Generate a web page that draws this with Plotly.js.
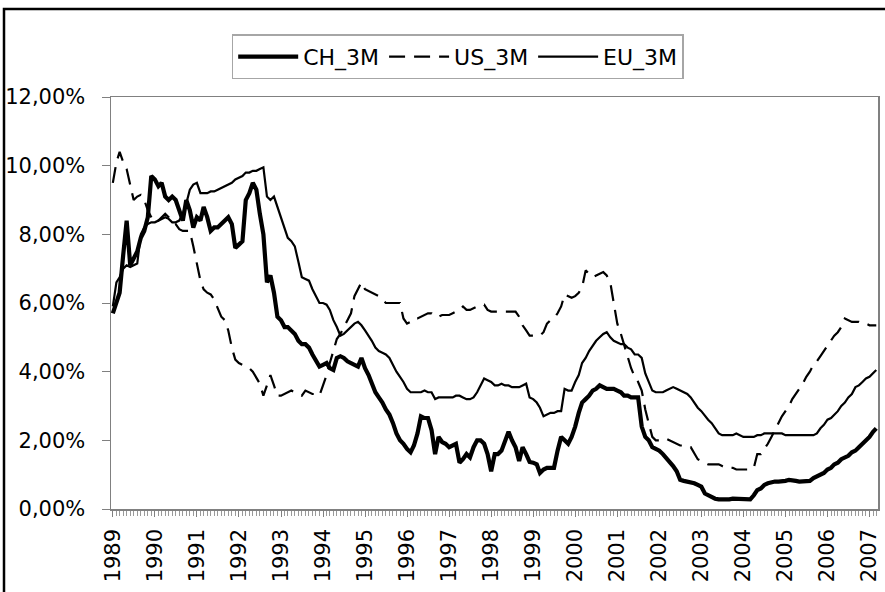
<!DOCTYPE html>
<html>
<head>
<meta charset="utf-8">
<script src="https://cdn.plot.ly/plotly-3.0.1.min.js"></script>
<style>html,body{margin:0;padding:0;background:#fff;}#chart{width:885px;height:592px;}</style>
</head>
<body>
<div id="chart"></div>
<script>
// Monthly 3-month interest rates (%), Jan 1989 - Mar 2007
const startYear = 1989;
const seriesNames = ["CH_3M", "US_3M", "EU_3M"];

const ch_3m = [
  5.7, 6.0, 6.3, 7.4, 8.4, 7.1, 7.3, 7.5, 7.9, 8.1, 8.5, 9.7,          // 1989
  9.6, 9.4, 9.5, 9.1, 9.0, 9.1, 9.0, 8.7, 8.4, 9.0, 8.7, 8.2,          // 1990
  8.5, 8.4, 8.8, 8.5, 8.1, 8.2, 8.2, 8.3, 8.4, 8.5, 8.3, 7.6,          // 1991
  7.7, 7.8, 9.0, 9.2, 9.5, 9.3, 8.6, 8.0, 6.6, 6.8, 6.3, 5.6,          // 1992
  5.5, 5.3, 5.3, 5.2, 5.1, 4.9, 4.8, 4.8, 4.7, 4.5, 4.3, 4.15,         // 1993
  4.2, 4.25, 4.1, 4.05, 4.4, 4.45, 4.4, 4.3, 4.25, 4.2, 4.15, 4.4,     // 1994
  4.1, 3.9, 3.65, 3.4, 3.25, 3.1, 2.9, 2.75, 2.5, 2.2, 2.0, 1.9,       // 1995
  1.75, 1.65, 1.85, 2.2, 2.7, 2.65, 2.65, 2.3, 1.6, 2.1, 1.95, 1.9,    // 1996
  1.8, 1.85, 1.9, 1.35, 1.45, 1.6, 1.5, 1.8, 2.0, 2.0, 1.9, 1.6,       // 1997
  1.1, 1.6, 1.6, 1.7, 2.0, 2.25, 2.0, 1.8, 1.4, 1.8, 1.6, 1.37,        // 1998
  1.35, 1.3, 1.05, 1.15, 1.2, 1.2, 1.2, 1.7, 2.1, 2.0, 1.9, 2.1,       // 1999
  2.4, 2.8, 3.1, 3.2, 3.3, 3.45, 3.5, 3.6, 3.55, 3.5, 3.5, 3.5,        // 2000
  3.45, 3.4, 3.3, 3.3, 3.25, 3.25, 3.25, 2.4, 2.1, 2.0, 1.8, 1.75,     // 2001
  1.7, 1.6, 1.5, 1.37, 1.25, 1.1, 0.85, 0.82, 0.8, 0.8, 0.75, 0.7,     // 2002
  0.65, 0.45, 0.4, 0.35, 0.3, 0.28, 0.27, 0.27, 0.28, 0.3, 0.3, 0.3,   // 2003
  0.28, 0.27, 0.28, 0.4, 0.55, 0.6, 0.7, 0.75, 0.78, 0.8, 0.8, 0.8,    // 2004
  0.82, 0.85, 0.85, 0.82, 0.8, 0.8, 0.8, 0.82, 0.9, 0.95, 1.0, 1.05,   // 2005
  1.15, 1.2, 1.3, 1.35, 1.45, 1.5, 1.55, 1.65, 1.7, 1.8, 1.9, 2.0,     // 2006
  2.1, 2.25, 2.35                                                      // 2007
];

const us_3m = [
  9.5, 10.1, 10.4, 10.1, 9.9, 9.4, 9.0, 9.1, 9.15, 9.0, 8.7, 8.5,      // 1989
  8.35, 8.4, 8.5, 8.6, 8.5, 8.35, 8.3, 8.15, 8.1, 8.1, 8.1, 7.65,      // 1990
  7.15, 6.65, 6.4, 6.3, 6.25, 6.1, 5.85, 5.6, 5.5, 5.2, 4.7, 4.35,     // 1991
  4.25, 4.2, 4.15, 4.1, 4.0, 3.8, 3.65, 3.3, 3.6, 3.9, 3.6, 3.3,       // 1992
  3.3, 3.35, 3.4, 3.45, 3.4, 3.35, 3.3, 3.45, 3.4, 3.35, 3.35, 3.3,    // 1993
  3.6, 3.9, 4.25, 4.6, 4.95, 5.1, 5.3, 5.5, 5.7, 6.2, 6.4, 6.6,        // 1994
  6.4, 6.35, 6.3, 6.25, 6.2, 6.1, 6.0, 6.0, 6.0, 6.0, 6.0, 5.55,       // 1995
  5.4, 5.45, 5.55, 5.55, 5.6, 5.65, 5.7, 5.7, 5.6, 5.6, 5.65, 5.65,    // 1996
  5.65, 5.7, 5.75, 5.8, 5.9, 5.8, 5.8, 5.85, 5.9, 5.95, 5.95, 5.8,     // 1997
  5.75, 5.75, 5.75, 5.75, 5.75, 5.75, 5.75, 5.75, 5.6, 5.35, 5.2, 5.05,// 1998
  5.05, 5.05, 5.05, 5.15, 5.4, 5.5, 5.55, 5.7, 5.9, 6.25, 6.2, 6.15,   // 1999
  6.2, 6.3, 6.45, 6.95, 6.85, 6.75, 6.8, 6.85, 6.9, 6.8, 6.6, 6.0,     // 2000
  5.4, 5.1, 4.8, 4.45, 4.1, 3.85, 3.7, 3.45, 2.9, 2.5, 2.1, 2.0,       // 2001
  2.0, 2.0, 2.05, 2.0, 1.95, 1.9, 1.85, 1.85, 1.8, 1.8, 1.6, 1.45,     // 2002
  1.4, 1.35, 1.3, 1.3, 1.3, 1.3, 1.25, 1.2, 1.2, 1.2, 1.15, 1.15,      // 2003
  1.15, 1.15, 1.15, 1.2, 1.6, 1.6, 1.75, 1.9, 2.1, 2.3, 2.5, 2.7,      // 2004
  2.85, 3.0, 3.2, 3.35, 3.5, 3.65, 3.85, 4.0, 4.2, 4.3, 4.45, 4.6,     // 2005
  4.75, 4.9, 5.05, 5.15, 5.3, 5.55, 5.5, 5.45, 5.45, 5.45, 5.4, 5.4,   // 2006
  5.35, 5.35, 5.35                                                     // 2007
];

const eu_3m = [
  5.9, 6.6, 6.75, 7.0, 7.1, 7.05, 7.1, 7.15, 8.0, 8.2, 8.3, 8.35,      // 1989
  8.35, 8.4, 8.45, 8.5, 8.45, 8.35, 8.35, 8.4, 8.6, 8.9, 9.3, 9.45,    // 1990
  9.5, 9.2, 9.2, 9.2, 9.25, 9.25, 9.3, 9.35, 9.4, 9.45, 9.5, 9.6,      // 1991
  9.65, 9.7, 9.8, 9.8, 9.85, 9.85, 9.9, 9.95, 9.1, 9.0, 9.1, 8.8,      // 1992
  8.5, 8.2, 7.9, 7.8, 7.65, 7.2, 6.75, 6.7, 6.65, 6.4, 6.2, 6.0,       // 1993
  6.0, 5.95, 5.8, 5.5, 5.3, 5.05, 5.1, 5.2, 5.3, 5.4, 5.45, 5.35,      // 1994
  5.2, 5.05, 4.9, 4.7, 4.6, 4.55, 4.5, 4.4, 4.2, 4.0, 3.85, 3.7,       // 1995
  3.5, 3.4, 3.4, 3.4, 3.4, 3.45, 3.4, 3.4, 3.2, 3.25, 3.25, 3.25,      // 1996
  3.25, 3.25, 3.3, 3.3, 3.25, 3.2, 3.2, 3.25, 3.4, 3.6, 3.8, 3.75,     // 1997
  3.7, 3.6, 3.6, 3.65, 3.6, 3.6, 3.55, 3.55, 3.55, 3.6, 3.65, 3.25,    // 1998
  3.2, 3.1, 2.95, 2.7, 2.75, 2.8, 2.8, 2.85, 2.85, 3.5, 3.45, 3.45,    // 1999
  3.7, 3.9, 4.25, 4.4, 4.6, 4.75, 4.9, 5.0, 5.1, 5.15, 5.0, 4.9,       // 2000
  4.85, 4.8, 4.8, 4.7, 4.65, 4.5, 4.5, 4.4, 3.95, 3.7, 3.45, 3.4,      // 2001
  3.4, 3.4, 3.45, 3.5, 3.55, 3.5, 3.45, 3.4, 3.35, 3.25, 3.1, 2.95,    // 2002
  2.85, 2.7, 2.6, 2.5, 2.35, 2.2, 2.15, 2.15, 2.15, 2.15, 2.2, 2.15,   // 2003
  2.1, 2.1, 2.1, 2.1, 2.15, 2.15, 2.2, 2.2, 2.2, 2.2, 2.2, 2.2,        // 2004
  2.15, 2.15, 2.15, 2.15, 2.15, 2.15, 2.15, 2.15, 2.15, 2.2, 2.35, 2.45, // 2005
  2.6, 2.65, 2.75, 2.85, 3.0, 3.1, 3.25, 3.35, 3.55, 3.6, 3.7, 3.8,    // 2006
  3.85, 3.95, 4.05                                                     // 2007
];

// monthly categories (first day of each month)
const months = [];
for (let i = 0; i < ch_3m.length; i++) {
  const y = startYear + Math.floor(i / 12);
  const m = (i % 12) + 1;
  months.push(y + "-" + String(m).padStart(2, "0") + "-01");
}

const FONT = "DejaVu Sans, Arial, sans-serif";

const traces = [
  {x: months, y: ch_3m, name: seriesNames[0], type: "scatter", mode: "lines",
   line: {color: "#000", width: 4.2}},
  {x: months, y: us_3m, name: seriesNames[1], type: "scatter", mode: "lines",
   line: {color: "#000", width: 2.2, dash: "16px,9px"}},
  {x: months, y: eu_3m, name: seriesNames[2], type: "scatter", mode: "lines",
   line: {color: "#000", width: 2.2}}
];

const layout = {
  width: 885, height: 592,
  margin: {l: 111, r: 7, t: 97, b: 83, pad: 0},
  paper_bgcolor: "#fff", plot_bgcolor: "#fff",
  separators: ", ",
  font: {family: FONT, color: "#000", size: 21},
  showlegend: true,
  legend: {
    orientation: "h", x: 0.452, xanchor: "center", y: 1.152, yanchor: "top",
    bordercolor: "#a6a6a6", borderwidth: 1.5, bgcolor: "#fff",
    font: {family: FONT, size: 22, color: "#000"},
    itemwidth: 60, tracegroupgap: 0
  },
  xaxis: {
    type: "date",
    range: ["1988-12-16", "2007-03-16"],
    tick0: "1989-01-01", dtick: "M12", tickformat: "%Y",
    tickangle: -90,
    ticks: "outside", ticklen: 6, tickcolor: "#808080", tickwidth: 1,
    minor: {dtick: "M1", ticks: "outside", ticklen: 5, tickcolor: "#9a9a9a", tickwidth: 1, showgrid: false},
    ticklabelstandoff: 4,
    showline: true, linecolor: "#808080", linewidth: 1.5, mirror: true,
    showgrid: false, zeroline: false,
    tickfont: {family: FONT, size: 21, color: "#000"}
  },
  yaxis: {
    range: [0, 12], dtick: 2, tick0: 0,
    tickformat: ".2f", ticksuffix: "%",
    ticks: "outside", ticklen: 8, tickcolor: "#808080", tickwidth: 1,
    ticklabelstandoff: 12,
    showline: true, linecolor: "#808080", linewidth: 1.5, mirror: true,
    showgrid: false, zeroline: false,
    tickfont: {family: FONT, size: 21, color: "#000"}
  },
  shapes: [
    {type: "rect", xref: "paper", yref: "paper",
     x0: -0.1395, x1: 1.03, y0: -0.3, y1: 1.2136,
     line: {color: "#000", width: 2.5}, fillcolor: "rgba(0,0,0,0)", layer: "above"}
  ]
};

Plotly.newPlot("chart", traces, layout, {displayModeBar: false, staticPlot: true});
</script>
</body>
</html>
